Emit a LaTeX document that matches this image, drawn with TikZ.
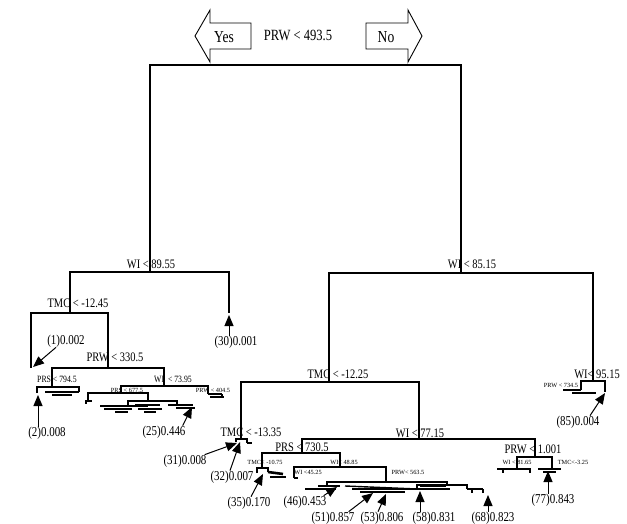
\documentclass[tikz,border=0pt]{standalone}
\usepackage{fontspec}
\setmainfont{Liberation Serif}
\usetikzlibrary{arrows.meta}
\newcommand{\tallt}[1]{\scalebox{0.97}[1.2]{#1}}
\begin{document}
\begin{tikzpicture}[x=1pt,y=-1pt,
  br/.style={line width=2pt},
  sbr/.style={line width=1.4pt},
  bar/.style={line width=2.6pt},
  tbar/.style={line width=1.4pt},
  ynbox/.style={draw,line width=0.9pt,line join=miter},
  splitlab/.style={font=\fontsize{10.8}{12}\selectfont,inner sep=0pt},
  toplab/.style={font=\fontsize{13}{15}\selectfont,inner sep=0pt},
  midlab/.style={font=\fontsize{8}{9}\selectfont,inner sep=0pt},
  tinylab/.style={font=\fontsize{6.3}{7}\selectfont,inner sep=0pt},
  leaflab/.style={font=\fontsize{11.3}{13}\selectfont,inner sep=0pt},
  leafarr/.style={line width=1pt,-{Triangle[width=9pt,length=11pt]}}
]
\useasboundingbox (0,0) rectangle (627,524);

% ---------- header: Yes / No arrows ----------
\draw[ynbox] (195,36) -- (210,10) -- (210,23) -- (251,23) -- (251,49) -- (210,49) -- (210,62) -- cycle;
\draw[ynbox] (422,36) -- (408,10) -- (408,23) -- (366,23) -- (366,49) -- (408,49) -- (408,62) -- cycle;
\node[toplab,font=\fontsize{14}{16}\selectfont] (yes) at (224,37) {\tallt{Yes}};
\node[toplab,font=\fontsize{14}{16}\selectfont] (no) at (386,37) {\tallt{No}};
\node[toplab] (lab0) at (298,35) {\tallt{PRW \textless{} 493.5}};

% ---------- split coordinates ----------
\coordinate (L1) at (150,272);
\coordinate (R1) at (461,273);
\coordinate (L2) at (70,313);
\coordinate (e30) at (229,313);
\coordinate (e1) at (31,368);
\coordinate (L3) at (108,368);
\coordinate (L4) at (52,387);
\coordinate (L5) at (164,386);
\coordinate (e2) at (37,393);
\coordinate (L4r) at (79,392);
\coordinate (L6) at (121,393);
\coordinate (L7) at (208,394);
\coordinate (L6l) at (88,401);
\coordinate (L6r) at (148,401);
\coordinate (L6ra) at (128,406);
\coordinate (L6rb) at (177,405);
\coordinate (L7r) at (222,394);

\coordinate (R3) at (329,382);
\coordinate (R2) at (593,381);
\coordinate (R2l) at (581,390);
\coordinate (R2r) at (605,392);
\coordinate (R4) at (241,439);
\coordinate (R5) at (419,439);
\coordinate (R4l) at (236,442);
\coordinate (R4r) at (247,443);
\coordinate (R6) at (302,453);
\coordinate (R11) at (535,457);
\coordinate (R7) at (262,468);
\coordinate (R8) at (340,467);
\coordinate (R7l) at (257,473);
\coordinate (R7r) at (268,472);
\coordinate (R9) at (294,478);
\coordinate (R10) at (386,482);
\coordinate (R10l) at (327,486);
\coordinate (R10r) at (447,485);
\coordinate (R10ra) at (417,489);
\coordinate (R10rb) at (467,489);
\coordinate (R12) at (517,469);
\coordinate (R13) at (552,469);

% ---------- tree brackets ----------
\draw[br] (L1) |- (305,65) -| (R1);
\draw[br] (L2) |- (L1) -| (e30);
\draw[br] (e1) |- (L2) -| (L3);
\draw[br] (L4) |- (L3) -| (L5);
\draw[sbr] (e2) |- (L4) -| (L4r);
\draw[sbr] (L6) |- (L5) -| (L7);
\draw[sbr] (L6l) |- (L6) -| (L6r);
\draw[sbr] (L6ra) |- (L6r) -| (L6rb);
\draw[sbr] (L7) -- (L7r);

\draw[br] (R3) |- (R1) -| (R2);
\draw[br] (R2l) |- (R2) -| (R2r);
\draw[br] (R4) |- (R3) -| (R5);
\draw[br] (R4l) |- (R4) -| (R4r);
\draw[br] (R6) |- (R5) -| (R11);
\draw[br] (R7) |- (R6) -| (R8);
\draw[sbr] (R7l) |- (R7) -| (R7r);
\draw[br] (R9) |- (R8) -| (R10);
\draw[sbr] (R10l) |- (R10) -| (R10r);
\draw[sbr] (R10ra) |- (R10r) -| (R10rb);
\draw[br] (R12) |- (R11) -| (R13);

% ---------- dense terminal bars (left) ----------
\draw[tbar] (45,392) -- (L4r);
\draw[bar] (52,395) -- (72,395);
\draw[tbar] (85,401) -- (92,401);
\draw[tbar] (86,401) -- (86,404);
\draw[tbar] (L7r) -- (222,397);
\draw[bar] (210,397) -- (224,397);
\draw[tbar] (100,406) -- (L6ra) -- (148,406);
\draw[bar] (104,409) -- (132,409);
\draw[bar] (115,412) -- (128,412);
\draw[tbar] (135,405) -- (160,405);
\draw[bar] (138,409) -- (162,409);
\draw[bar] (144,412) -- (156,412);
\draw[tbar] (168,405) -- (L6rb) -- (193,405);
\draw[bar] (176,408) -- (195,408);

% ---------- dense terminal bars (right) ----------
\draw[tbar] (563,390) -- (R2l);
\draw[bar] (572,393) -- (596,393);
\draw[tbar] (R4r) -- (252,443);
\draw[bar] (R7r) -- (283,474);
\draw[bar] (270,477) -- (286,477);
\draw[tbar] (R9) -- (298,478);
\draw[tbar] (R10l) -- (340,486);
\draw[bar] (305,489) -- (336,489);
\draw[bar] (318,486) -- (330,486);
\draw[tbar] (345,486) -- (R10ra);
\draw[bar] (352,489) -- (450,489);
\draw[bar] (360,492) -- (405,492);
\draw[bar] (420,486) -- (446,486);
\draw[tbar] (R10rb) -- (483,489);
\draw[tbar] (472,489) -- (472,493);
\draw[tbar] (483,489) -- (483,493);
\draw[bar] (497,469) -- (531,469);
\draw[tbar] (503,469) -- (503,473);
\draw[tbar] (530,469) -- (530,473);
\draw[bar] (538,469) -- (561,469);
\draw[bar] (543,472) -- (556,472);

% ---------- split labels ----------
\node[splitlab] (lab1) at (151,264) {\tallt{WI \textless{} 89.55}};
\node[splitlab] (lab2) at (78,303) {\tallt{TMC \textless{} -12.45}};
\node[splitlab] (lab3) at (115,357) {\tallt{PRW \textless{} 330.5}};
\node[midlab] (lab4) at (57,379) {\tallt{PRS \textless{} 794.5}};
\node[midlab] (lab5) at (173,379) {\tallt{WI \ \textless{} 73.95}};
\node[tinylab] (lab6) at (127,390) {PRS \textless{} 677.5};
\node[tinylab] (lab7) at (213,390) {PRW \textless{} 404.5};

\node[splitlab] (labR1) at (472,264) {\tallt{WI \textless{} 85.15}};
\node[splitlab] (labR2) at (597,374) {\tallt{WI\textless{} 95.15}};
\node[tinylab] (labR2b) at (561,385) {PRW \textless{} 734.5};
\node[splitlab] (labR3) at (338,374) {\tallt{TMC \textless{} -12.25}};
\node[splitlab] (labR4) at (251,432) {\tallt{TMC \textless{} -13.35}};
\node[splitlab] (labR5) at (420,433) {\tallt{WI \textless{} 77.15}};
\node[splitlab] (labR6) at (302,447) {\tallt{PRS \textless{} 730.5}};
\node[tinylab] (labR7) at (265,462) {TMC\textless{} -10.75};
\node[tinylab] (labR8) at (344,462) {WI\textless{} 48.85};
\node[tinylab] (labR9) at (308,472) {WI \textless{}45.25};
\node[tinylab] (labR10) at (408,472) {PRW\textless{} 563.5};
\node[splitlab] (labR11) at (533,449) {\tallt{PRW \textless{} 1.001}};
\node[tinylab] (labR12) at (517,462) {WI \textless{} 81.65};
\node[tinylab] (labR13) at (573,462) {TMC\textless{}-3.25};

% ---------- leaves ----------
\node[leaflab] (n30) at (236,342) {\tallt{(30)0.001}};
\node[leaflab] (n1) at (66,341) {\tallt{(1)0.002}};
\node[leaflab] (n2) at (47,433) {\tallt{(2)0.008}};
\node[leaflab] (n25) at (164,432) {\tallt{(25)0.446}};
\node[leaflab] (n85) at (578,422) {\tallt{(85)0.004}};
\node[leaflab] (n31) at (185,461) {\tallt{(31)0.008}};
\node[leaflab] (n32) at (232,477) {\tallt{(32)0.007}};
\node[leaflab] (n35) at (249,503) {\tallt{(35)0.170}};
\node[leaflab] (n46) at (305,502) {\tallt{(46)0.453}};
\node[leaflab] (n51) at (333,518) {\tallt{(51)0.857}};
\node[leaflab] (n53) at (382,518) {\tallt{(53)0.806}};
\node[leaflab] (n58) at (434,518) {\tallt{(58)0.831}};
\node[leaflab] (n68) at (493,518) {\tallt{(68)0.823}};
\node[leaflab] (n77) at (553,500) {\tallt{(77)0.843}};

\coordinate (t30) at (229,315);
\coordinate (t1) at (33,367);
\coordinate (t2) at (38,395);
\coordinate (t25) at (192,407);
\coordinate (t85) at (605,393);
\coordinate (t31) at (237,443);
\coordinate (t32) at (240,442);
\coordinate (t35) at (263,474);
\coordinate (t46) at (337,487);
\coordinate (t51) at (373,493);
\coordinate (t53) at (386,494);
\coordinate (t58) at (420,491);
\coordinate (t68) at (488,495);
\coordinate (t77) at (548,471);

\draw[leafarr] (n30.north -| t30) -- (t30);
\draw[leafarr] ([xshift=-10pt]n1.south) -- (t1);
\draw[leafarr] (n2.north -| t2) -- (t2);
\draw[leafarr] ([xshift=-3pt]n25.north east) -- (t25);
\draw[leafarr] ([xshift=12pt]n85.north) -- (t85);
\draw[leafarr] ([xshift=-2pt]n31.north east) -- (t31);
\draw[leafarr] ([xshift=-2pt]n32.north) -- (t32);
\draw[leafarr] ([xshift=2pt]n35.north) -- (t35);
\draw[leafarr] ([xshift=-3pt]n46.north east) -- (t46);
\draw[leafarr] ([xshift=-6pt]n51.north east) -- (t51);
\draw[leafarr] ([xshift=-4pt]n53.north) -- (t53);
\draw[leafarr] (n58.north -| t58) -- (t58);
\draw[leafarr] (n68.north -| t68) -- (t68);
\draw[leafarr] (n77.north -| t77) -- (t77);
\end{tikzpicture}
\end{document}
